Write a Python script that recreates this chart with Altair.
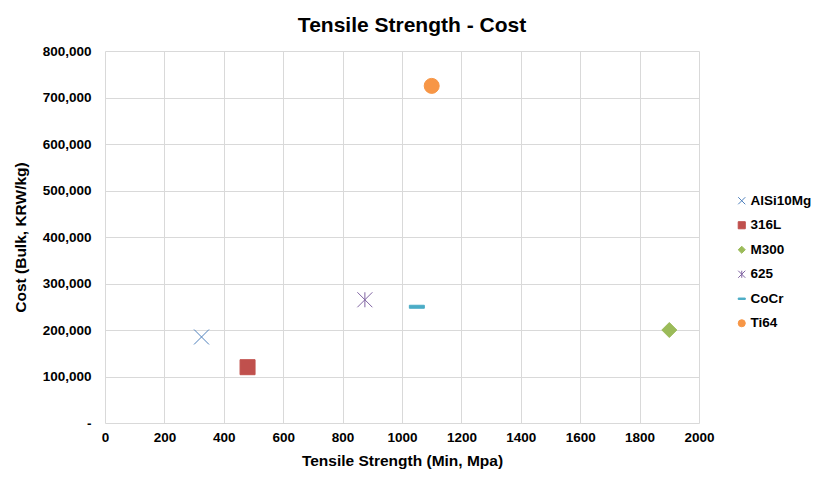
import altair as alt
import pandas as pd

materials = ["AlSi10Mg", "316L", "M300", "625", "CoCr", "Ti64"]
tensile = [325, 480, 1900, 875, 1050, 1100]
cost = [185000, 120000, 200000, 265000, 250000, 725000]

colors = ["#4F81BD", "#C0504D", "#9BBB59", "#8064A2", "#4BACC6", "#F79646"]
shapes = [
    "M-1,-1L1,1M1,-1L-1,1",
    "square",
    "diamond",
    "M-1,-1L1,1M1,-1L-1,1M0,-1L0,1",
    "M-1,-0.2L1,-0.2L1,0.2L-1,0.2Z",
    "circle",
]

df = pd.DataFrame({"material": materials, "tensile": tensile, "cost": cost})

font = "Liberation Sans"

cscale = alt.Scale(domain=materials, range=colors)

chart = alt.Chart(df).mark_point(filled=True, size=225, strokeWidth=1, opacity=1).encode(
    x=alt.X("tensile:Q", title="Tensile Strength (Min, Mpa)",
            scale=alt.Scale(domain=[0, 2000], nice=False),
            axis=alt.Axis(values=list(range(0, 2001, 200)), format="d", labelFlush=False,
                          labelPadding=7, titlePadding=10)),
    y=alt.Y("cost:Q", title="Cost (Bulk, KRW/kg)",
            scale=alt.Scale(domain=[0, 800000], nice=False),
            axis=alt.Axis(values=list(range(0, 800001, 100000)), labelFlush=False,
                          labelExpr="datum.value == 0 ? '-' : format(datum.value, ',')",
                          labelPadding=14, titlePadding=14)),
    color=alt.Color("material:N", scale=cscale, title=None,
                    legend=alt.Legend(orient="none", legendX=630, legendY=143)),
    stroke=alt.Stroke("material:N", scale=cscale, title=None),
    shape=alt.Shape("material:N", scale=alt.Scale(domain=materials, range=shapes), title=None),
).properties(
    width=594,
    height=372,
    autosize=alt.AutoSizeParams(type="none"),
    padding={"left": 97, "top": 43, "right": 115, "bottom": 55},
    title=alt.Title("Tensile Strength - Cost", fontSize=21, font=font, fontWeight="bold",
                    color="#000000", offset=8, dx=10),
).configure_axis(
    grid=True, gridColor="#d9d9d9", gridWidth=1, domain=False, ticks=False,
    labelFont=font, labelFontSize=13.5, labelFontWeight="bold", labelColor="#000000",
    titleFont=font, titleFontSize=15.5, titleFontWeight="bold", titleColor="#000000",
).configure_view(stroke=None).configure_legend(
    labelFont=font, labelFontSize=13.5, labelFontWeight="bold", labelColor="#000000",
    symbolSize=50, symbolStrokeWidth=1, rowPadding=9.5, labelOffset=2,
)

chart.save("out.html", embed_options={"renderer": "svg", "actions": False})
